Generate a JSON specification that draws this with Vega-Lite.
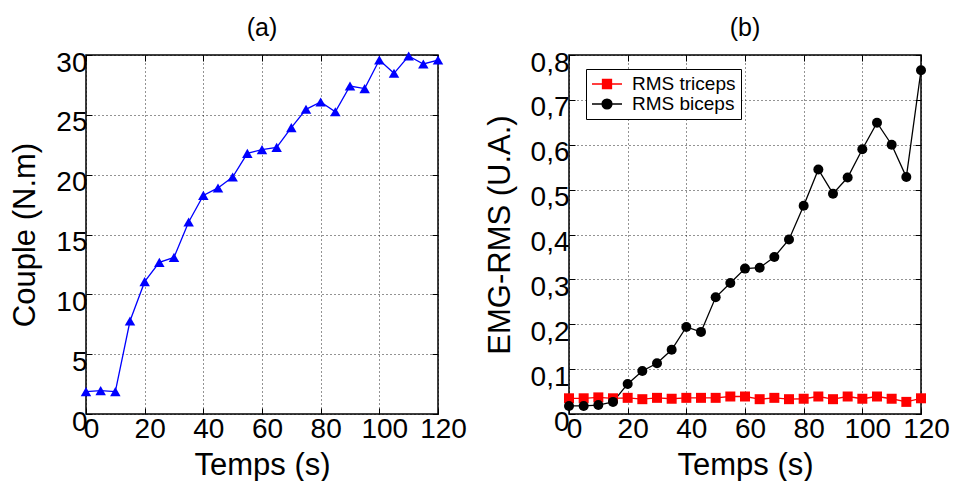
{
  "$schema": "https://vega.github.io/schema/vega-lite/v6.json",
  "padding": {"left": 9, "top": 15, "right": 0, "bottom": 0},
  "spacing": 15,
  "background": "white",
  "resolve": {"scale": {"color": "independent"}, "legend": {"color": "independent"}},
  "datasets": {
    "couple": [
      {"t": 0, "couple": 1.87}, {"t": 5, "couple": 1.95}, {"t": 10, "couple": 1.87}, {"t": 15, "couple": 7.77},
      {"t": 20, "couple": 11.06}, {"t": 25, "couple": 12.67}, {"t": 30, "couple": 13.09}, {"t": 35, "couple": 16.04},
      {"t": 40, "couple": 18.27}, {"t": 45, "couple": 18.89}, {"t": 50, "couple": 19.8}, {"t": 55, "couple": 21.78},
      {"t": 60, "couple": 22.09}, {"t": 65, "couple": 22.28}, {"t": 70, "couple": 23.93}, {"t": 75, "couple": 25.46},
      {"t": 80, "couple": 26.07}, {"t": 85, "couple": 25.26}, {"t": 90, "couple": 27.41}, {"t": 95, "couple": 27.19},
      {"t": 100, "couple": 29.58}, {"t": 105, "couple": 28.47}, {"t": 110, "couple": 29.92}, {"t": 115, "couple": 29.25},
      {"t": 120, "couple": 29.58}
    ],
    "emg": [
      {"t": 0, "series": "RMS triceps", "value": 0.035}, {"t": 5, "series": "RMS triceps", "value": 0.035},
      {"t": 10, "series": "RMS triceps", "value": 0.037}, {"t": 15, "series": "RMS triceps", "value": 0.035},
      {"t": 20, "series": "RMS triceps", "value": 0.036}, {"t": 25, "series": "RMS triceps", "value": 0.033},
      {"t": 30, "series": "RMS triceps", "value": 0.036}, {"t": 35, "series": "RMS triceps", "value": 0.034},
      {"t": 40, "series": "RMS triceps", "value": 0.036}, {"t": 45, "series": "RMS triceps", "value": 0.036},
      {"t": 50, "series": "RMS triceps", "value": 0.036}, {"t": 55, "series": "RMS triceps", "value": 0.039},
      {"t": 60, "series": "RMS triceps", "value": 0.039}, {"t": 65, "series": "RMS triceps", "value": 0.033},
      {"t": 70, "series": "RMS triceps", "value": 0.036}, {"t": 75, "series": "RMS triceps", "value": 0.033},
      {"t": 80, "series": "RMS triceps", "value": 0.034}, {"t": 85, "series": "RMS triceps", "value": 0.039},
      {"t": 90, "series": "RMS triceps", "value": 0.033}, {"t": 95, "series": "RMS triceps", "value": 0.039},
      {"t": 100, "series": "RMS triceps", "value": 0.034}, {"t": 105, "series": "RMS triceps", "value": 0.039},
      {"t": 110, "series": "RMS triceps", "value": 0.034}, {"t": 115, "series": "RMS triceps", "value": 0.027},
      {"t": 120, "series": "RMS triceps", "value": 0.035},
      {"t": 0, "series": "RMS biceps", "value": 0.018}, {"t": 5, "series": "RMS biceps", "value": 0.018},
      {"t": 10, "series": "RMS biceps", "value": 0.02}, {"t": 15, "series": "RMS biceps", "value": 0.027},
      {"t": 20, "series": "RMS biceps", "value": 0.067}, {"t": 25, "series": "RMS biceps", "value": 0.096},
      {"t": 30, "series": "RMS biceps", "value": 0.113}, {"t": 35, "series": "RMS biceps", "value": 0.143},
      {"t": 40, "series": "RMS biceps", "value": 0.194}, {"t": 45, "series": "RMS biceps", "value": 0.183},
      {"t": 50, "series": "RMS biceps", "value": 0.26}, {"t": 55, "series": "RMS biceps", "value": 0.292},
      {"t": 60, "series": "RMS biceps", "value": 0.324}, {"t": 65, "series": "RMS biceps", "value": 0.326},
      {"t": 70, "series": "RMS biceps", "value": 0.35}, {"t": 75, "series": "RMS biceps", "value": 0.389},
      {"t": 80, "series": "RMS biceps", "value": 0.464}, {"t": 85, "series": "RMS biceps", "value": 0.545},
      {"t": 90, "series": "RMS biceps", "value": 0.491}, {"t": 95, "series": "RMS biceps", "value": 0.527},
      {"t": 100, "series": "RMS biceps", "value": 0.59}, {"t": 105, "series": "RMS biceps", "value": 0.649},
      {"t": 110, "series": "RMS biceps", "value": 0.6}, {"t": 115, "series": "RMS biceps", "value": 0.528},
      {"t": 120, "series": "RMS biceps", "value": 0.766}
    ]
  },
  "hconcat": [
    {
      "width": 352,
      "height": 359,
      "title": {"text": "(a)", "dy": -6},
      "data": {"name": "couple"},
      "layer": [
        {
          "mark": {"type": "line", "color": "#0000ff", "strokeWidth": 1.3},
          "encoding": {
            "x": {"field": "t", "type": "quantitative", "scale": {"domain": [0, 120], "nice": false},
                  "axis": {"values": [0, 20, 40, 60, 80, 100, 120], "title": "Temps (s)", "labelFlush": false, "labelOverlap": false, "labelOffset": 5, "titlePadding": 7}},
            "y": {"field": "couple", "type": "quantitative", "scale": {"domain": [0, 30], "nice": false},
                  "axis": {"values": [0, 5, 10, 15, 20, 25, 30], "title": "Couple (N.m)", "labelPadding": 5, "titlePadding": 14, "labelOffset": 8}}
          }
        },
        {
          "mark": {"type": "point", "shape": "triangle-up", "filled": true, "color": "#0000ff", "size": 110, "opacity": 1},
          "encoding": {
            "x": {"field": "t", "type": "quantitative",
                  "axis": {"orient": "top", "values": [0, 20, 40, 60, 80, 100, 120], "labels": false, "grid": false, "title": null}},
            "y": {"field": "couple", "type": "quantitative",
                  "axis": {"orient": "right", "values": [0, 5, 10, 15, 20, 25, 30], "labels": false, "grid": false, "title": null}}
          }
        }
      ],
      "resolve": {"axis": {"x": "independent", "y": "independent"}}
    },
    {
      "width": 352,
      "height": 359,
      "title": {"text": "(b)", "dy": -6},
      "data": {"name": "emg"},
      "layer": [
        {
          "mark": {"type": "line", "strokeWidth": 1.3},
          "encoding": {
            "x": {"field": "t", "type": "quantitative", "scale": {"domain": [0, 120], "nice": false},
                  "axis": {"values": [0, 20, 40, 60, 80, 100, 120], "title": "Temps (s)", "labelFlush": false, "labelOverlap": false, "labelOffset": 5, "titlePadding": 7}},
            "y": {"field": "value", "type": "quantitative", "scale": {"domain": [0, 0.8], "nice": false},
                  "axis": {"values": [0, 0.1, 0.2, 0.3, 0.4, 0.5, 0.6, 0.7, 0.8], "title": "EMG-RMS (U.A.)", "labelPadding": 6, "titlePadding": 14, "labelOffset": 8,
                           "labelExpr": "datum.value == 0 ? '0' : replace(format(datum.value, '.1f'), '.', ',')"}},
            "color": {"field": "series", "type": "nominal",
                      "scale": {"domain": ["RMS triceps", "RMS biceps"], "range": ["#ff0000", "#000000"]},
                      "legend": {
                        "orient": "none", "legendX": 17, "legendY": 14, "title": null,
                        "padding": 5, "strokeColor": "#000000", "fillColor": "#ffffff",
                        "labelFont": "Liberation Sans", "labelFontSize": 19, "labelColor": "#000000",
                        "symbolSize": 900, "clipHeight": 20, "rowPadding": 0, "labelOffset": 9,
                        "symbolStrokeWidth": 1.3,
                        "encode": {"symbols": {"update": {
                          "shape": {"signal": "datum.value === 'RMS triceps' ? 'M-1,0H1M-0.3,-0.3H0.3V0.3H-0.3Z' : 'M-1,0H1M0.33,0A0.33,0.33,0,1,1,-0.33,0A0.33,0.33,0,1,1,0.33,0Z'"},
                          "fill": {"signal": "datum.value === 'RMS triceps' ? '#ff0000' : '#000000'"},
                          "stroke": {"signal": "datum.value === 'RMS triceps' ? '#ff0000' : '#000000'"},
                          "strokeWidth": {"value": 1.3},
                          "size": {"value": 900},
                          "opacity": {"value": 1}
                        }}}
                      }}
          }
        },
        {
          "transform": [{"filter": "datum.series === 'RMS triceps'"}],
          "mark": {"type": "point", "shape": "square", "filled": true, "color": "#ff0000", "size": 100, "opacity": 1},
          "encoding": {
            "x": {"field": "t", "type": "quantitative",
                  "axis": {"orient": "top", "values": [0, 20, 40, 60, 80, 100, 120], "labels": false, "grid": false, "title": null}},
            "y": {"field": "value", "type": "quantitative",
                  "axis": {"orient": "right", "values": [0, 0.1, 0.2, 0.3, 0.4, 0.5, 0.6, 0.7, 0.8], "labels": false, "grid": false, "title": null}}
          }
        },
        {
          "transform": [{"filter": "datum.series === 'RMS biceps'"}],
          "mark": {"type": "point", "shape": "circle", "filled": true, "color": "#000000", "size": 100, "opacity": 1},
          "encoding": {
            "x": {"field": "t", "type": "quantitative", "axis": null},
            "y": {"field": "value", "type": "quantitative", "axis": null}
          }
        }
      ],
      "resolve": {"axis": {"x": "independent", "y": "independent"}}
    }
  ],
  "config": {
    "font": "Liberation Sans",
    "view": {"stroke": "#000000", "strokeWidth": 1.5},
    "title": {"font": "Liberation Sans", "fontSize": 25, "fontWeight": "normal", "color": "#000000", "offset": 2, "anchor": "middle"},
    "axis": {
      "labelFont": "Liberation Sans", "labelFontSize": 28, "labelColor": "#000000",
      "titleFont": "Liberation Sans", "titleFontSize": 31, "titleFontWeight": "normal", "titleColor": "#000000",
      "tickColor": "#000000", "tickSize": -6, "tickWidth": 1, "domain": false,
      "gridColor": "#000000", "gridDash": [1, 3], "gridOpacity": 0.85, "gridWidth": 1,
      "labelPadding": 7, "titlePadding": 3
    }
  }
}
